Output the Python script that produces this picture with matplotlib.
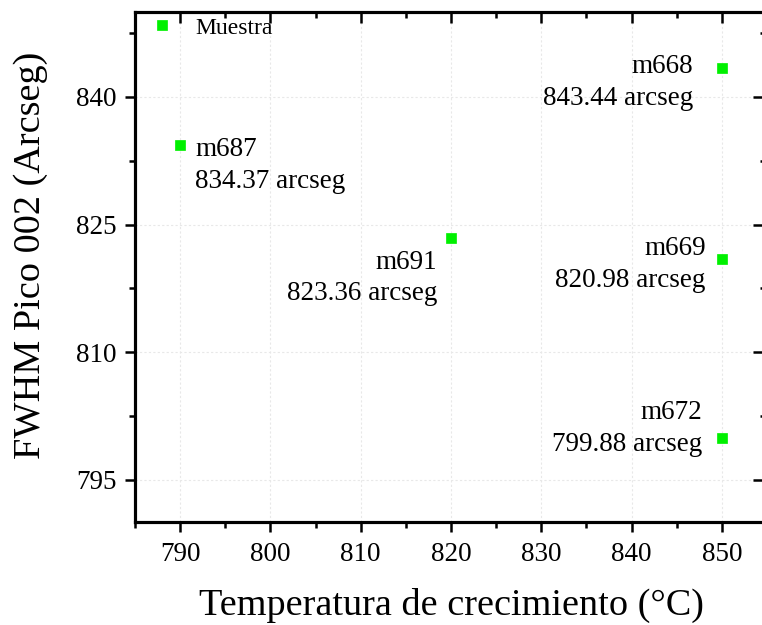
import matplotlib
matplotlib.use("Agg")
import matplotlib.pyplot as plt
from matplotlib.ticker import MultipleLocator

# data
temperatures = [790, 820, 850, 850, 850]
fwhm_values = [834.37, 823.36, 843.44, 820.98, 799.88]
sample_names = ['m687', 'm691', 'm668', 'm669', 'm672']

# label placement: last-line baseline offset from the point (pixels)
label_offsets = [(15, -43), (-14, -62), (-29, -37), (-16, -28), (-20, -13)]
label_align = ['left', 'right', 'right', 'right', 'right']

plt.rcParams['font.family'] = ['Liberation Serif', 'DejaVu Serif']
green = '#00f000'
xlim = (785, 855)
ylim = (790, 850)
yticks = [795, 810, 825, 840]

fig = plt.figure(figsize=(7.62, 6.25), dpi=100)
ax = fig.add_axes([135 / 762, 103 / 625, 632 / 762, 510 / 625])

ax.plot(temperatures, fwhm_values, 's', color=green, markersize=7,
        markeredgewidth=0.5, label='Muestra', zorder=3)

for x, y, name, off, ha in zip(temperatures, fwhm_values, sample_names,
                               label_offsets, label_align):
    ax.annotate(f"{name}\n{y:.2f} arcseg", (x, y), xytext=off,
                textcoords='offset pixels', ha=ha, va='baseline',
                multialignment=ha, fontsize=19.5, linespacing=1.35)

ax.set_xlim(*xlim)
ax.set_ylim(*ylim)
ax.xaxis.set_major_locator(MultipleLocator(10))
ax.xaxis.set_minor_locator(MultipleLocator(5))
ax.set_yticks(yticks)
ax.yaxis.set_minor_locator(MultipleLocator(7.5))

ax.grid(True, which='major', color='#e8e8e8', lw=0.8, ls=(0, (2, 2)))
ax.set_axisbelow(True)

for side in ['left', 'bottom', 'top', 'right']:
    ax.spines[side].set_linewidth(2.2)

ax.tick_params(axis='x', which='major', direction='out', length=7, width=1.8,
               labelsize=19.5, pad=7.5)
ax.tick_params(axis='y', which='major', direction='out', length=7, width=1.8,
               labelsize=19.5, pad=6)
ax.tick_params(which='minor', direction='out', length=4, width=1.8)

# top and right ticks point inwards
tx = ax.twiny()
tx.set_xlim(*xlim)
tx.xaxis.set_major_locator(MultipleLocator(10))
tx.xaxis.set_minor_locator(MultipleLocator(5))
tx.tick_params(which='major', direction='in', length=8, width=1.8, labeltop=False)
tx.tick_params(which='minor', direction='in', length=4, width=1.8)

ty = ax.twinx()
ty.set_ylim(*ylim)
ty.set_yticks(yticks)
ty.yaxis.set_minor_locator(MultipleLocator(7.5))
ty.tick_params(which='major', direction='in', length=10, width=1.8, labelright=False)
ty.tick_params(which='minor', direction='in', length=5, width=1.8)
for t in (tx, ty):
    for s in t.spines.values():
        s.set_linewidth(2.2)

ax.set_xlabel('Temperatura de crecimiento (°C)', fontsize=27.5, labelpad=15)
ax.set_ylabel('FWHM Pico 002 (Arcseg)', fontsize=27.5)
ax.yaxis.set_label_coords(-0.138, 0.5235)

ax.legend(loc='center left', bbox_to_anchor=(0.006, 0.969), frameon=False,
          fontsize=17, borderpad=0, handlelength=1, handletextpad=0.9,
          numpoints=1)

fig.savefig('out.png', dpi=100, facecolor='white')
